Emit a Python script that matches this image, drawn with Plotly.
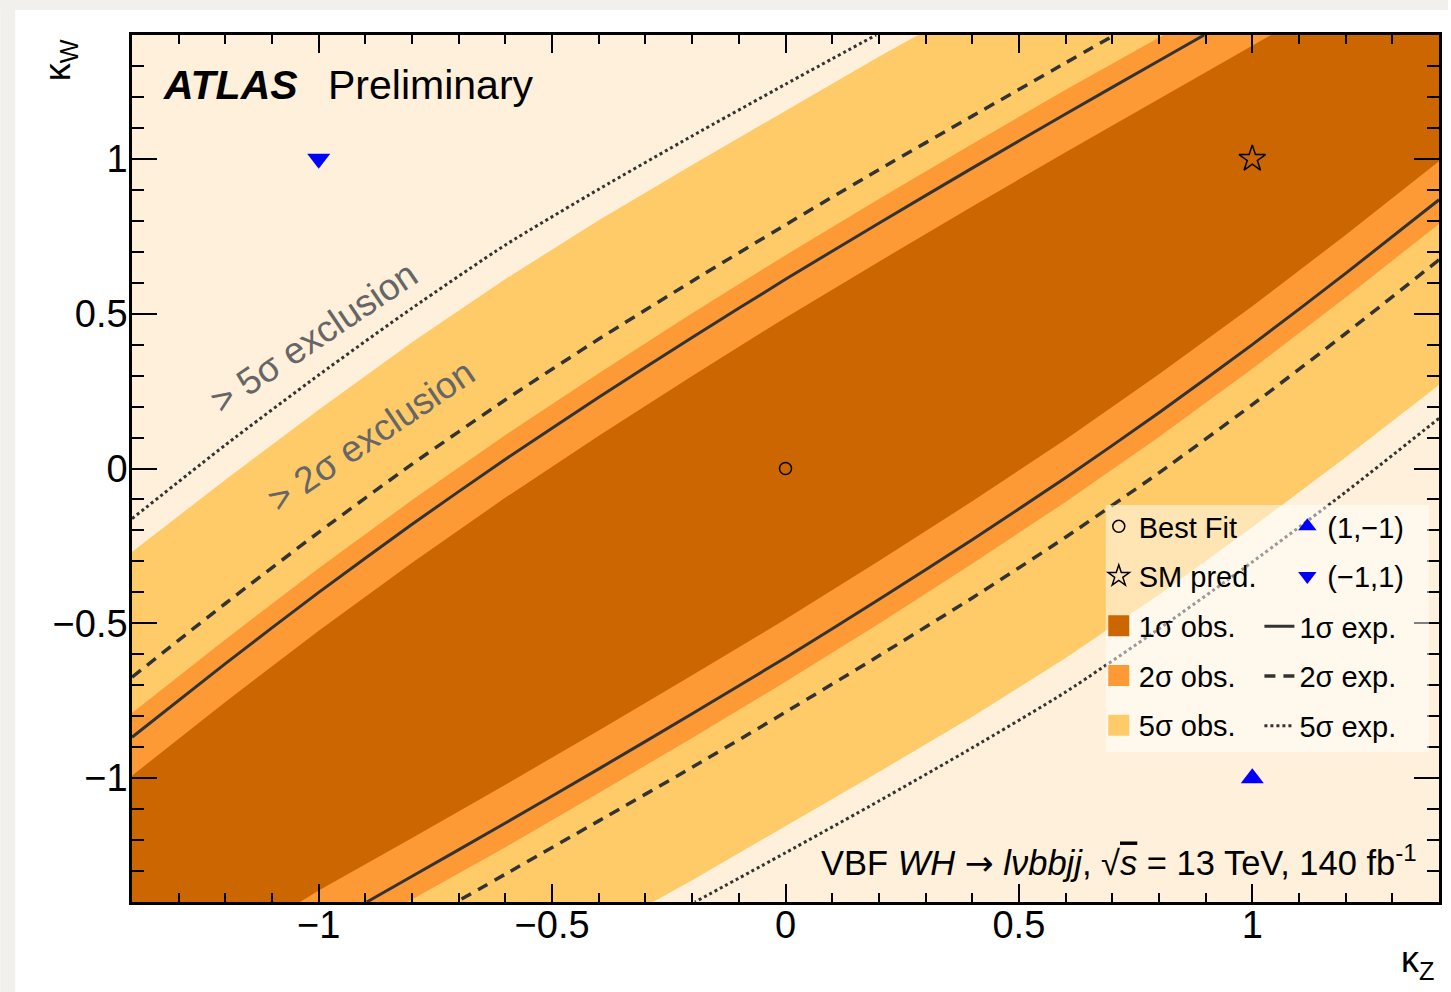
import plotly.graph_objects as go

FONT = "Liberation Sans, Arial, Helvetica, sans-serif"
XMIN, XMAX, YMIN, YMAX = -1.4, 1.4, -1.4, 1.4

CREAM = "#FEF0DA"
YELLOW = "#FECB68"
ORANGE = "#FE9A35"
DARK = "#CC6600"
LINEC = "#333333"

# ---- contour boundaries ----
# 1 sigma observed (dark region)
obs1_up_x = [-1.4, -1.2, -1.0, -0.8, -0.6, -0.4, -0.2, 0.0, 0.2, 0.4, 0.6, 0.8, 1.0, 1.04]
obs1_up_y = [-0.992, -0.754, -0.524, -0.304, -0.094, 0.106, 0.299, 0.487, 0.668, 0.846, 1.021, 1.193, 1.363, 1.4]
obs1_lo_x = [1.4, 1.2, 1.0, 0.8, 0.6, 0.4, 0.2, 0.0, -0.2, -0.4, -0.6, -0.8, -1.0, -1.04]
obs1_lo_y = [0.992, 0.754, 0.524, 0.304, 0.094, -0.106, -0.299, -0.487, -0.668, -0.846, -1.021, -1.193, -1.363, -1.4]

# 2 sigma observed (orange region)
obs2_up_x = [-1.4, -1.2, -1.0, -0.8, -0.6, -0.4, -0.2, 0.0, 0.2, 0.4, 0.6, 0.81]
obs2_up_y = [-0.790, -0.552, -0.322, -0.102, 0.108, 0.308, 0.501, 0.689, 0.870, 1.048, 1.223, 1.4]
obs2_lo_x = [1.4, 1.2, 1.0, 0.8, 0.6, 0.4, 0.2, 0.0, -0.2, -0.4, -0.6, -0.81]
obs2_lo_y = [0.790, 0.552, 0.322, 0.102, -0.108, -0.308, -0.501, -0.689, -0.870, -1.048, -1.223, -1.4]

# 5 sigma observed (yellow region)
obs5_up_x = [-1.4, -1.2, -1.0, -0.8, -0.6, -0.4, -0.2, 0.0, 0.2, 0.284]
obs5_up_y = [-0.27, -0.036, 0.190, 0.408, 0.612, 0.802, 0.980, 1.155, 1.330, 1.4]
obs5_lo_x = [1.4, 1.2, 1.0, 0.8, 0.6, 0.4, 0.2, 0.0, -0.2, -0.284]
obs5_lo_y = [0.27, 0.036, -0.190, -0.408, -0.612, -0.802, -0.980, -1.155, -1.330, -1.4]

# 1 sigma expected (solid)
exp1_up_x = [-1.4, -1.2, -1.0, -0.8, -0.6, -0.4, -0.2, 0.0, 0.2, 0.4, 0.6, 0.8, 0.897]
exp1_up_y = [-0.868, -0.630, -0.400, -0.180, 0.030, 0.230, 0.423, 0.611, 0.792, 0.970, 1.145, 1.317, 1.4]
exp1_lo_x = [1.4, 1.2, 1.0, 0.8, 0.6, 0.4, 0.2, 0.0, -0.2, -0.4, -0.6, -0.8, -0.897]
exp1_lo_y = [0.868, 0.630, 0.400, 0.180, -0.030, -0.230, -0.423, -0.611, -0.792, -0.970, -1.145, -1.317, -1.4]

# 2 sigma expected (dashed)
exp2_up_x = [-1.4, -1.2, -1.0, -0.8, -0.6, -0.4, -0.2, 0.0, 0.2, 0.4, 0.6, 0.705]
exp2_up_y = [-0.674, -0.436, -0.206, 0.014, 0.222, 0.418, 0.605, 0.787, 0.965, 1.138, 1.310, 1.4]
exp2_lo_x = [1.4, 1.2, 1.0, 0.8, 0.6, 0.4, 0.2, 0.0, -0.2, -0.4, -0.6, -0.705]
exp2_lo_y = [0.674, 0.436, 0.206, -0.014, -0.222, -0.418, -0.605, -0.787, -0.965, -1.138, -1.310, -1.4]

# 5 sigma expected (dotted)
exp5_up_x = [-1.4, -1.2, -1.0, -0.8, -0.6, -0.4, -0.2, 0.0, 0.194]
exp5_up_y = [-0.162, 0.076, 0.302, 0.518, 0.722, 0.902, 1.074, 1.241, 1.4]
exp5_lo_x = [1.4, 1.2, 1.0, 0.8, 0.6, 0.4, 0.2, 0.0, -0.194]
exp5_lo_y = [0.162, -0.076, -0.302, -0.518, -0.722, -0.902, -1.074, -1.241, -1.4]

best_fit = ([0.0], [0.0])
sm_pred = ([1.0], [1.0])
pt_up = ([1.0], [-1.0])     # (1,-1)
pt_down = ([-1.0], [1.0])   # (-1,1)


def band(ux, uy, lx, ly):
    xs = ux + [XMAX] + lx + [XMIN, ux[0]]
    ys = uy + [YMAX] + ly + [YMIN, uy[0]]
    return xs, ys


def both(ux, uy, lx, ly):
    return ux + [None] + lx, uy + [None] + ly


fig = go.Figure()

for (ux, uy, lx, ly), col in [((obs5_up_x, obs5_up_y, obs5_lo_x, obs5_lo_y), YELLOW),
                              ((obs2_up_x, obs2_up_y, obs2_lo_x, obs2_lo_y), ORANGE),
                              ((obs1_up_x, obs1_up_y, obs1_lo_x, obs1_lo_y), DARK)]:
    xs, ys = band(ux, uy, lx, ly)
    fig.add_trace(go.Scatter(x=xs, y=ys, fill="toself", fillcolor=col, mode="lines",
                             line=dict(width=0, color=col),
                             showlegend=False, hoverinfo="skip"))

for (ux, uy, lx, ly), dash, w, name, rank in [
        ((exp5_up_x, exp5_up_y, exp5_lo_x, exp5_lo_y), "3px,3px", 3, "5σ exp.", 5),
        ((exp2_up_x, exp2_up_y, exp2_lo_x, exp2_lo_y), "11px,8px", 3.5, "2σ exp.", 4),
        ((exp1_up_x, exp1_up_y, exp1_lo_x, exp1_lo_y), "solid", 3, "1σ exp.", 3)]:
    xs, ys = both(ux, uy, lx, ly)
    fig.add_trace(go.Scatter(x=xs, y=ys, mode="lines",
                             line=dict(color=LINEC, width=w, dash=dash, shape="spline", smoothing=0.6),
                             name=name, legend="legend3", legendgroup="g3_" + name, legendrank=rank))

# points
fig.add_trace(go.Scatter(x=best_fit[0], y=best_fit[1], mode="markers", name="Best Fit",
                         marker=dict(symbol="circle-open", size=12, color="black", line=dict(width=1.5)),
                         legendgroup="g1_bf", legendrank=1))
fig.add_trace(go.Scatter(x=sm_pred[0], y=sm_pred[1], mode="markers", name="SM pred.",
                         marker=dict(symbol="star-open", size=20, color="black", line=dict(width=1.5)),
                         legendgroup="g1_sm", legendrank=2))
fig.add_trace(go.Scatter(x=pt_up[0], y=pt_up[1], mode="markers", name="(1,−1)",
                         marker=dict(symbol="triangle-up", size=20, color="#0000FF"),
                         legend="legend2", legendgroup="g2_up", legendrank=1))
fig.add_trace(go.Scatter(x=pt_down[0], y=pt_down[1], mode="markers", name="(−1,1)",
                         marker=dict(symbol="triangle-down", size=20, color="#0000FF"),
                         legend="legend2", legendgroup="g2_dn", legendrank=2))

# legend swatches for filled regions
for name, col, rank in [("1σ obs.", DARK, 3), ("2σ obs.", ORANGE, 4), ("5σ obs.", YELLOW, 5)]:
    fig.add_trace(go.Scatter(x=[None], y=[None], mode="markers", name=name,
                             marker=dict(symbol="square", size=16, color=col, line=dict(color=col, width=5)),
                             legendgroup="g1_" + name, legendrank=rank))

W, H = 1451, 992
ML, MR, MT, MB = 132, 9, 35, 90
PW, PH = W - ML - MR, H - MT - MB


def px2paper(px, py):
    return (px - ML) / PW, (H - MB - py) / PH


axis_common = dict(showgrid=False, zeroline=False, showline=True,
                   linecolor="black", linewidth=2.5, mirror="allticks", ticks="inside",
                   tickwidth=2, tickcolor="black", dtick=0.5, tick0=0,
                   tickfont=dict(family=FONT, size=38, color="black"))
fig.update_xaxes(**axis_common, range=[XMIN, XMAX], ticklen=18, ticklabelstandoff=-12,
                 minor=dict(dtick=0.1, ticklen=9, tickwidth=2, ticks="inside", tickcolor="black"))
fig.update_yaxes(**axis_common, range=[YMIN, YMAX], ticklen=25, ticklabelstandoff=-6,
                 minor=dict(dtick=0.1, ticklen=12, tickwidth=2, ticks="inside", tickcolor="black"))

lx0, ly0 = px2paper(1101, 501)
rx0, _ = px2paper(1290, 501)
r3x0, ly3 = px2paper(1262, 601)
leg_common = dict(bgcolor="rgba(0,0,0,0)", borderwidth=0, yanchor="top", xanchor="left",
                  font=dict(family=FONT, size=29, color="black"), tracegroupgap=9,
                  traceorder="grouped")
fig.update_layout(
    width=W, height=H,
    margin=dict(l=ML, r=MR, t=MT, b=MB),
    paper_bgcolor="white", plot_bgcolor=CREAM,
    font=dict(family=FONT, color="black"),
    legend=dict(x=lx0, y=ly0, **leg_common),
    legend2=dict(x=rx0, y=ly0, **leg_common),
    legend3=dict(x=r3x0, y=ly3, **leg_common),
)

shapes = []
# grey page frame strips
x0, y0 = px2paper(0, 0)
x1, y1 = px2paper(W, 10)
shapes.append(dict(type="rect", xref="paper", yref="paper", x0=x0, x1=x1, y0=y1, y1=y0,
                   fillcolor="#F1F0EC", line=dict(width=0), layer="below"))
x1b, y1b = px2paper(15, H)
shapes.append(dict(type="rect", xref="paper", yref="paper", x0=x0, x1=x1b, y0=y1b, y1=y0,
                   fillcolor="#F1F0EC", line=dict(width=0), layer="below"))
# legend backdrop
bx0, by0 = px2paper(1108, 752)
bx1, by1 = px2paper(1432, 505)
shapes.append(dict(type="rect", xref="paper", yref="paper", x0=bx0, x1=bx1, y0=by0, y1=by1,
                   fillcolor="rgba(255,255,255,0.5)", line=dict(width=0), layer="above"))
fig.update_layout(shapes=shapes)

ann = []
ax, ay = px2paper(161, 85)
ann.append(dict(text="<b><i>ATLAS</i></b>", x=ax, y=ay, xref="paper", yref="paper",
                xanchor="left", yanchor="middle", showarrow=False,
                font=dict(family=FONT, size=41, color="black")))
ax, ay = px2paper(326, 85)
ann.append(dict(text="Preliminary", x=ax, y=ay, xref="paper", yref="paper",
                xanchor="left", yanchor="middle", showarrow=False,
                font=dict(family=FONT, size=41, color="black")))
ax, ay = px2paper(1422, 861)
ann.append(dict(text="VBF <i>WH</i> <span style='font-family:DejaVu Sans'>→</span> <i>lνbbjj</i>, √<span style='text-decoration:overline'><i>s</i></span> = 13 TeV, 140 fb<sup>-1</sup>",
                x=ax, y=ay, xref="paper", yref="paper", xanchor="right", yanchor="middle",
                showarrow=False, font=dict(family=FONT, size=34.5, color="black")))
ann.append(dict(text="> 5σ exclusion", x=-1.011, y=0.423, xref="x", yref="y", showarrow=False,
                textangle=-34, xanchor="center", yanchor="middle",
                font=dict(family=FONT, size=37, color="#666666")))
ann.append(dict(text="> 2σ exclusion", x=-0.887, y=0.107, xref="x", yref="y", showarrow=False,
                textangle=-34, xanchor="center", yanchor="middle",
                font=dict(family=FONT, size=37, color="#666666")))
ax, ay = px2paper(60, 60)
ann.append(dict(text="κ<sub>W</sub>", x=ax, y=ay, xref="paper", yref="paper", showarrow=False,
                textangle=-90, xanchor="center", yanchor="middle",
                font=dict(family=FONT, size=36, color="black")))
ax, ay = px2paper(1420, 962)
ann.append(dict(text="κ<sub>Z</sub>", x=ax, y=ay, xref="paper", yref="paper", showarrow=False,
                xanchor="center", yanchor="middle",
                font=dict(family=FONT, size=36, color="black")))
fig.update_layout(annotations=ann)

fig.write_html("out.html")
